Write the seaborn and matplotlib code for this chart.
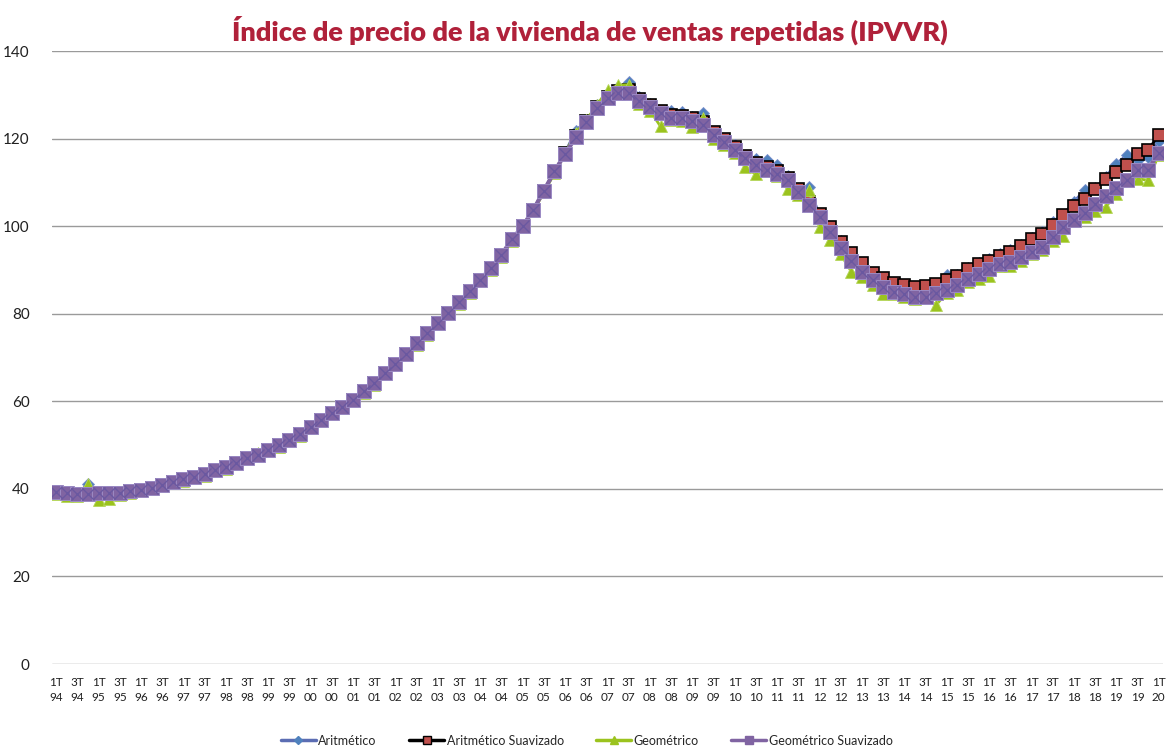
import matplotlib
matplotlib.use("Agg")
import matplotlib.pyplot as plt
from matplotlib.lines import Line2D
import seaborn as sns
import numpy as np
import pandas as pd

# ---------------- data (quarterly, 1T 1994 .. 1T 2020) ----------------
years = ["94", "95", "96", "97", "98", "99", "00", "01", "02", "03", "04", "05", "06",
         "07", "08", "09", "10", "11", "12", "13", "14", "15", "16", "17", "18", "19", "20"]
quarter_names = ["1T", "2T", "3T", "4T"]
periods = [f"{q} {y}" for y in years for q in quarter_names][:105]

aritmetico = [
    39.2, 38.8, 38.7, 41.2, 38.8, 38.9, 39.0, 39.4, 39.8, 40.3,
    41.0, 41.6, 42.3, 42.9, 43.6, 44.3, 45.2, 46.1, 47.1, 47.9,
    49.0, 50.1, 51.3, 52.5, 54.2, 55.8, 57.3, 58.9, 60.4, 62.3,
    64.2, 66.5, 68.6, 70.8, 73.2, 75.5, 77.9, 80.3, 82.7, 85.2,
    87.8, 90.4, 93.5, 97.0, 100.0, 103.7, 108.1, 112.5, 116.8, 121.8,
    124.0, 127.6, 130.3, 131.8, 133.0, 129.6, 127.8, 125.3, 126.2, 126.0,
    125.0, 125.9, 121.0, 120.0, 118.5, 116.0, 115.4, 115.2, 114.0, 111.5,
    108.5, 109.0, 102.5, 99.5, 96.5, 93.0, 90.5, 88.5, 87.5, 86.6,
    86.0, 85.6, 85.6, 86.6, 88.8, 88.8, 90.5, 91.5, 92.4, 93.6,
    94.6, 95.8, 97.2, 98.6, 101.0, 102.6, 105.6, 108.2, 108.6, 111.3,
    114.3, 116.2, 115.2, 115.8, 119.5]

aritmetico_suavizado = [
    39.2, 39.0, 38.9, 38.9, 39.0, 39.0, 39.1, 39.4, 39.8, 40.3,
    40.9, 41.6, 42.2, 42.8, 43.5, 44.3, 45.1, 46.0, 47.0, 47.8,
    48.9, 50.0, 51.2, 52.5, 54.2, 55.7, 57.3, 58.8, 60.4, 62.3,
    64.2, 66.5, 68.6, 70.7, 73.2, 75.5, 77.9, 80.2, 82.7, 85.2,
    87.8, 90.4, 93.5, 97.0, 100.0, 103.7, 108.1, 112.5, 116.6, 120.5,
    124.0, 127.2, 129.6, 130.9, 131.0, 129.1, 127.7, 126.3, 125.3, 125.1,
    124.6, 123.7, 121.4, 119.9, 118.1, 116.1, 114.5, 113.4, 112.6, 111.1,
    108.5, 105.4, 102.7, 99.7, 96.4, 93.8, 91.5, 89.2, 88.1, 87.1,
    86.5, 86.0, 86.3, 86.9, 87.8, 88.7, 90.1, 91.3, 92.1, 93.2,
    94.2, 95.5, 97.0, 98.2, 100.3, 102.5, 104.6, 106.1, 108.4, 110.7,
    112.4, 114.0, 116.5, 117.4, 120.8]

geometrico = [
    38.9, 38.4, 38.3, 41.2, 37.5, 37.6, 38.7, 39.1, 39.4, 39.9,
    40.6, 41.4, 41.7, 42.8, 43.0, 44.2, 44.6, 45.7, 46.8, 48.3,
    48.6, 49.6, 51.1, 52.1, 53.8, 55.4, 57.0, 58.4, 60.0, 62.0,
    63.8, 66.2, 68.2, 70.5, 72.8, 75.2, 77.6, 80.0, 82.3, 84.8,
    87.4, 90.0, 93.0, 96.6, 99.8, 103.4, 107.7, 112.1, 116.6, 121.3,
    124.2, 127.7, 131.0, 132.2, 132.3, 128.0, 126.4, 122.8, 124.3, 124.0,
    122.6, 124.6, 119.8, 118.6, 116.8, 113.6, 111.8, 112.8, 111.5, 108.5,
    107.2, 108.2, 99.7, 96.8, 93.6, 89.6, 88.4, 86.6, 84.5, 84.4,
    83.8, 83.3, 83.5, 82.0, 84.8, 85.5, 87.3, 88.0, 88.5, 90.8,
    90.8, 92.0, 93.6, 94.5, 96.5, 97.8, 101.2, 102.2, 103.5, 104.4,
    107.4, 110.2, 110.8, 110.5, 116.3]

geometrico_suavizado = [
    39.2, 39.0, 38.9, 38.9, 39.0, 39.0, 39.1, 39.4, 39.8, 40.3,
    40.9, 41.6, 42.2, 42.8, 43.5, 44.3, 45.1, 46.0, 47.0, 47.8,
    48.9, 50.0, 51.2, 52.5, 54.2, 55.7, 57.3, 58.8, 60.4, 62.3,
    64.2, 66.5, 68.6, 70.7, 73.2, 75.5, 77.9, 80.2, 82.7, 85.2,
    87.8, 90.4, 93.5, 97.0, 100.0, 103.7, 108.1, 112.5, 116.5, 120.3,
    123.8, 126.9, 129.2, 130.5, 130.5, 128.6, 127.3, 125.8, 124.8, 124.6,
    124.1, 123.1, 120.8, 119.3, 117.5, 115.5, 113.9, 112.8, 112.0, 110.5,
    107.9, 104.8, 102.0, 98.7, 95.1, 92.0, 89.6, 87.7, 86.2, 85.0,
    84.5, 83.9, 83.9, 84.7, 85.4, 86.5, 87.9, 89.0, 90.1, 91.3,
    91.9, 93.0, 94.2, 95.3, 97.6, 99.7, 101.4, 102.9, 105.0, 106.9,
    108.6, 110.5, 112.8, 112.9, 116.8]

tick_labels = [f"{q}\n{y}" for y in years for q in ["1T", "3T"]][:53]
y_ticks = [0, 20, 40, 60, 80, 100, 120, 140]

title = "Índice de precio de la vivienda de ventas repetidas (IPVVR)"

# ---------------- styling ----------------
sns.set_theme(style="white")
plt.rcParams["font.family"] = ["Lato", "DejaVu Sans"]

fig = plt.figure(figsize=(11.69, 7.49), dpi=100)
ax = fig.add_axes([52 / 1169, 1 - 664 / 749, 1111 / 1169, 613 / 749])

df = pd.DataFrame({
    "periodo": periods,
    "x": np.arange(len(periods)),
    "Aritmético": aritmetico,
    "Aritmético Suavizado": aritmetico_suavizado,
    "Geométrico": geometrico,
    "Geométrico Suavizado": geometrico_suavizado,
})

c_ar_line = "#5B6DB3"
c_ar_mark = "#4F81BD"
c_as_mark = "#C0504D"
c_ge = "#9BC31E"
c_gs = "#8064A2"
c_gs_x = "#6A58A0"

sns.lineplot(data=df, x="x", y="Aritmético", ax=ax, color=c_ar_line, lw=2.0,
             marker="D", markersize=6.5, markerfacecolor=c_ar_mark,
             markeredgecolor="#7A8FCB", markeredgewidth=0.6, zorder=2)
sns.lineplot(data=df, x="x", y="Aritmético Suavizado", ax=ax, color="black", lw=2.0,
             marker="s", markersize=8, markerfacecolor=c_as_mark,
             markeredgecolor="black", markeredgewidth=1.2, zorder=3)
sns.lineplot(data=df, x="x", y="Geométrico", ax=ax, color=c_ge, lw=2.0,
             marker="^", markersize=9, markerfacecolor=c_ge,
             markeredgecolor="#B5D65A", markeredgewidth=0.6, zorder=4)
sns.lineplot(data=df, x="x", y="Geométrico Suavizado", ax=ax, color=c_gs, lw=3.0,
             marker="s", markersize=10, markerfacecolor=c_gs,
             markeredgecolor="#9B8AC4", markeredgewidth=0.7, zorder=5)
ax.plot(df["x"], df["Geométrico Suavizado"], ls="none", marker="x", markersize=9,
        markeredgecolor=c_gs_x, markeredgewidth=1.0, zorder=6)

ax.set_ylim(0, 140)
ax.set_xlim(-0.4, len(periods) - 0.6)
ax.set_yticks(y_ticks)
ax.set_yticklabels([str(v) for v in y_ticks], fontsize=11, color="#202020")
ax.set_xticks(np.arange(0, len(periods), 2))
ax.set_xticklabels(tick_labels, fontsize=8.5, color="#202020", linespacing=1.45)
ax.tick_params(axis="both", length=0)
ax.tick_params(axis="y", pad=16)
ax.tick_params(axis="x", pad=9)
ax.set_xlabel("")
ax.set_ylabel("")
ax.grid(axis="y", color="#9A9A9A", lw=1.0)
ax.grid(axis="x", visible=False)
for s in ax.spines.values():
    s.set_visible(False)

fig.text(0.505, 1 - 30 / 749, title, ha="center", va="center",
         fontsize=19.5, fontweight="heavy", color="#B0213A")

handles = [
    Line2D([], [], color=c_ar_line, lw=2.5, marker="D", markersize=4,
           markerfacecolor=c_ar_mark, markeredgecolor=c_ar_mark),
    Line2D([], [], color="black", lw=2.5, marker="s", markersize=6,
           markerfacecolor=c_as_mark, markeredgecolor="black"),
    Line2D([], [], color=c_ge, lw=2.5, marker="^", markersize=6,
           markerfacecolor=c_ge, markeredgecolor=c_ge),
    Line2D([], [], color=c_gs, lw=2.5, marker="s", markersize=6,
           markerfacecolor=c_gs, markeredgecolor=c_gs),
]
labels = ["Aritmético", "Aritmético Suavizado", "Geométrico", "Geométrico Suavizado"]
fig.legend(handles, labels, loc="lower center", bbox_to_anchor=(0.502, -0.012),
           ncol=4, frameon=False, fontsize=9, handlelength=2.8, handletextpad=0.2,
           columnspacing=2.6)

fig.savefig("out.png", dpi=100)
